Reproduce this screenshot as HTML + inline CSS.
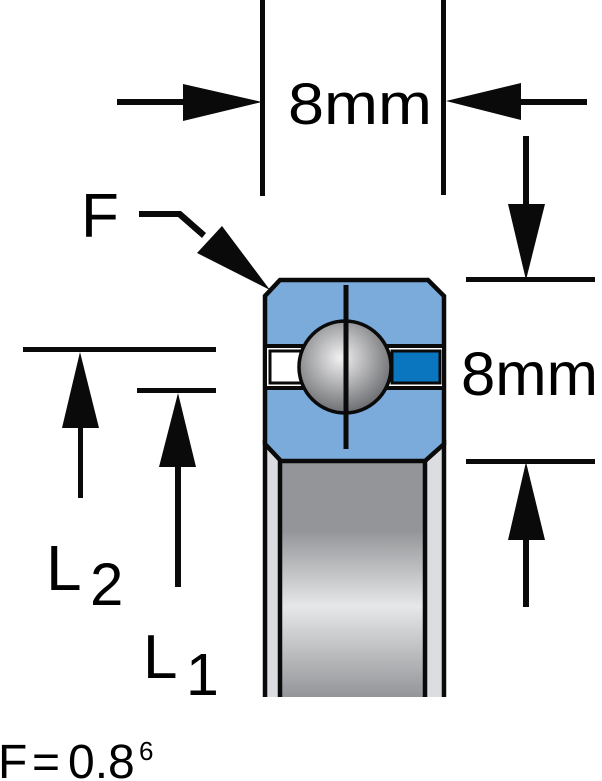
<!DOCTYPE html>
<html><head><meta charset="utf-8"><style>html,body{margin:0;padding:0;background:#fff}svg{display:block}text{font-family:"Liberation Sans",sans-serif;fill:#000}</style></head><body>
<svg width="602" height="781" viewBox="0 0 602 781" xmlns="http://www.w3.org/2000/svg">
<defs>
<linearGradient id="bore" x1="0" y1="0" x2="0" y2="1">
<stop offset="0" stop-color="#939598"/><stop offset="0.3" stop-color="#939598"/><stop offset="0.62" stop-color="#e6e7e8"/><stop offset="1" stop-color="#939598"/></linearGradient>
<radialGradient id="ball" cx="0.45" cy="0.4" r="0.6"><stop offset="0" stop-color="#f1f1f2"/><stop offset="1" stop-color="#6d6e71"/></radialGradient>
</defs>
<rect x="263" y="450" width="183" height="247" fill="#dcdde0"/>
<rect x="279" y="459" width="146" height="238" fill="url(#bore)"/>
<g stroke="#0a0a0a" stroke-width="4.5" fill="none">
<line x1="265" y1="440" x2="265" y2="697"/><line x1="444" y1="440" x2="444" y2="697"/>
<line x1="280" y1="459" x2="280" y2="697"/><line x1="425" y1="459" x2="425" y2="697"/>
</g>
<path d="M280 280 L428 280 L444 296 L444 444 L425 461 L281 461 L265 444 L265 296 Z" fill="#7aabdb" stroke="#0a0a0a" stroke-width="4.5"/>
<rect x="267" y="344" width="175" height="46" fill="#fff"/>
<g stroke="#0a0a0a" stroke-width="4" fill="none">
<line x1="267" y1="346" x2="442" y2="346"/><line x1="267" y1="388" x2="442" y2="388"/>
</g>
<rect x="270" y="351" width="34" height="32" fill="#fff" stroke="#0a0a0a" stroke-width="3"/>
<rect x="392" y="351" width="48" height="32" fill="#0a76c0" stroke="#0a0a0a" stroke-width="3"/>
<circle cx="345" cy="367" r="46" fill="url(#ball)" stroke="#0a0a0a" stroke-width="3.5"/>
<line x1="346" y1="285" x2="346" y2="449" stroke="#0a0a0a" stroke-width="5"/>
<g fill="#0a0a0a" stroke="none">
<rect x="260" y="0" width="5" height="196"/><rect x="441" y="0" width="5" height="195"/>
<rect x="117" y="99" width="70" height="6"/><polygon points="183,84 262,102 183,121"/>
<rect x="518" y="99" width="69" height="6"/><polygon points="521,83 446,101 521,120"/>
<rect x="523" y="136" width="6" height="72"/><polygon points="508,204 545,204 526,280"/>
<rect x="466" y="277" width="129" height="5"/>
<rect x="466" y="459" width="129" height="5"/><polygon points="508,540 545,540 526,462"/>
<rect x="523" y="536" width="6" height="71"/>
<rect x="23" y="347" width="193" height="5"/><polygon points="62,428 99,428 80,352"/><rect x="78" y="424" width="5" height="74"/>
<rect x="137" y="388" width="79" height="5"/><polygon points="159,467 196,467 178,393"/><rect x="175" y="463" width="6" height="124"/>
<polygon points="139,211 181,211 206,233 202,238 178,217 139,217"/>
<polygon points="197,253 222,226 270,290"/>
</g>
<text x="288" y="124" font-size="58" textLength="144" lengthAdjust="spacingAndGlyphs">8mm</text>
<text x="461" y="395" font-size="61" textLength="137" lengthAdjust="spacingAndGlyphs">8mm</text>
<text x="81" y="237" font-size="62">F</text>
<text x="46" y="590" font-size="64">L</text>
<text x="90" y="605" font-size="60">2</text>
<text x="143" y="678" font-size="62">L</text>
<text x="186" y="695" font-size="59">1</text>
<text x="-2" y="778" font-size="48">F</text>
<text x="32" y="778" font-size="48">=</text>
<text x="68" y="778" font-size="48">0.8</text>
<text x="139" y="760" font-size="26">6</text>
</svg>
</body></html>
